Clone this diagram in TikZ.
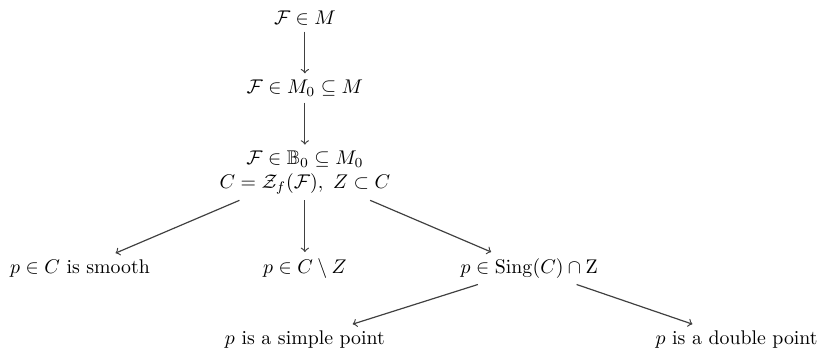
\documentclass[tikz,border=0pt]{standalone}
\usepackage{amsmath, amssymb}
\usepackage{tikz}

\begin{document}
\begin{tikzpicture}[
    stmt/.style={inner sep=3pt, align=center},
    impl/.style={->, semithick, black!75}]
  \useasboundingbox (0,0) rectangle (14.55,-6.19);
  %--- Chain of reductions
  \node[stmt] (top)  at (5.41,-0.32) {$\mathcal{F}\in M$};
  \node[stmt] (red)  at (5.41,-1.56) {$\mathcal{F}\in M_0\subseteq M$};
  \node[stmt] (curv) at (5.41,-3.06) {$\mathcal{F}\in\mathbb{B}_0\subseteq M_0$\\
                                     $C=\mathcal{Z}_f(\mathcal{F}),\ Z\subset C$};
  %--- Cases for the point p
  \node[stmt] (smooth) at (1.42,-4.76)  {$p\in C$ is smooth};
  \node[stmt] (gen)    at (5.41,-4.76)  {$p\in C\setminus Z$};
  \node[stmt] (sing)   at (9.39,-4.76)  {$p\in\operatorname{Sing}(C)\cap\mathrm{Z}$};
  %--- Singular subcases
  \node[stmt] (simple) at (5.41,-6.02)  {$p$ is a simple point};
  \node[stmt] (double) at (13.07,-6.02) {$p$ is a double point};
  %--- Arrows
  \draw[impl] (top) -- (red);
  \draw[impl] (red) -- (curv);
  \draw[impl] (curv) -- (smooth);
  \draw[impl] (curv) -- (gen);
  \draw[impl] (curv) -- (sing);
  \draw[impl] (sing) -- (simple);
  \draw[impl] (sing) -- (double);
\end{tikzpicture}
\end{document}
